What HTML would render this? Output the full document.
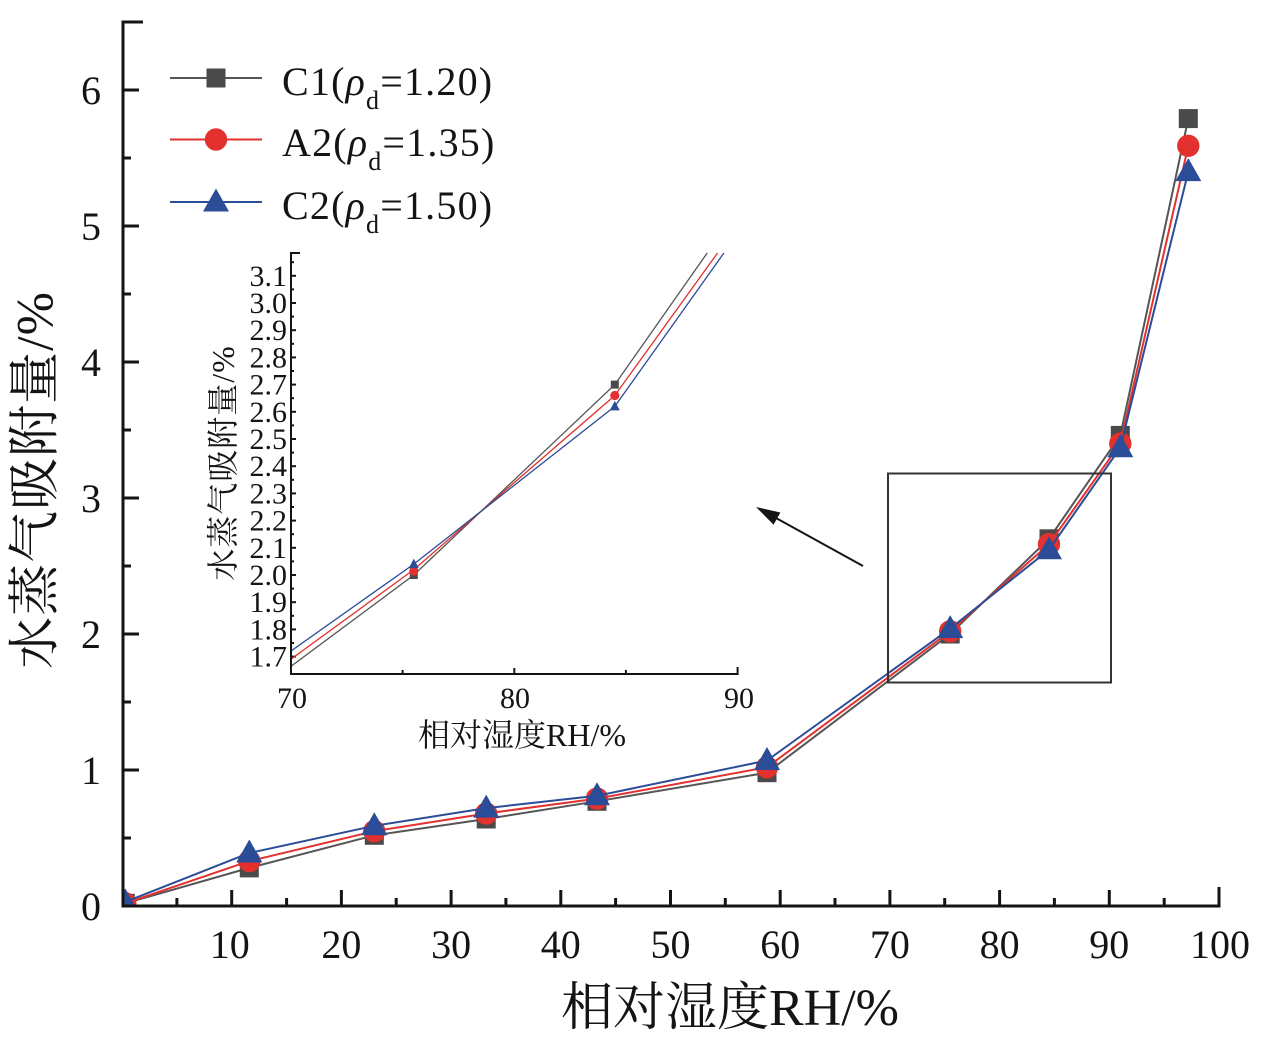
<!DOCTYPE html>
<html>
<head>
<meta charset="utf-8">
<style>
  html, body { margin: 0; padding: 0; background: #fff; }
  svg { display: block; }
  text { font-family: "Liberation Serif", "Noto Serif CJK SC", serif; fill: #141414; }
</style>
</head>
<body>
<svg width="1263" height="1046" viewBox="0 0 1263 1046" xmlns="http://www.w3.org/2000/svg">
  <rect x="0" y="0" width="1263" height="1046" fill="#ffffff"/>
  <defs>
    <clipPath id="mainclip"><rect x="124.5" y="0" width="1110" height="904.5"/></clipPath>
    <clipPath id="insclip"><rect x="292" y="253" width="446" height="420"/></clipPath>
    <rect id="sq" x="-9.5" y="-9.5" width="19" height="19" fill="#4a4a4a"/>
    <circle id="ci" cx="0" cy="0" r="11.2" fill="#e2312e"/>
    <polygon id="tr" points="0,-13.5 -13,9.5 13,9.5" fill="#2b4c97"/>
    <rect id="sqs" x="-4" y="-4" width="8" height="8" fill="#4a4a4a"/>
    <circle id="cis" cx="0" cy="0" r="4.6" fill="#e2312e"/>
    <polygon id="trs" points="0,-5.5 -5,4 5,4" fill="#2b4c97"/>
  </defs>

  <!-- Main axes -->
  <g stroke="#141414" stroke-width="3" fill="none">
    <line x1="123" y1="20.5" x2="123" y2="907.5"/>
    <line x1="121.5" y1="906" x2="1220.5" y2="906"/>
    <line x1="123" y1="22" x2="143" y2="22"/>
    <line x1="123" y1="770" x2="139" y2="770"/>
    <line x1="123" y1="634" x2="139" y2="634"/>
    <line x1="123" y1="498" x2="139" y2="498"/>
    <line x1="123" y1="362" x2="139" y2="362"/>
    <line x1="123" y1="226" x2="139" y2="226"/>
    <line x1="123" y1="90" x2="139" y2="90"/>
    <line x1="123" y1="838" x2="131" y2="838"/>
    <line x1="123" y1="702" x2="131" y2="702"/>
    <line x1="123" y1="566" x2="131" y2="566"/>
    <line x1="123" y1="430" x2="131" y2="430"/>
    <line x1="123" y1="294" x2="131" y2="294"/>
    <line x1="123" y1="158" x2="131" y2="158"/>
    <line x1="231.7" y1="906" x2="231.7" y2="890"/>
    <line x1="341.4" y1="906" x2="341.4" y2="890"/>
    <line x1="451.1" y1="906" x2="451.1" y2="890"/>
    <line x1="560.8" y1="906" x2="560.8" y2="890"/>
    <line x1="670.5" y1="906" x2="670.5" y2="890"/>
    <line x1="780.2" y1="906" x2="780.2" y2="890"/>
    <line x1="889.9" y1="906" x2="889.9" y2="890"/>
    <line x1="999.6" y1="906" x2="999.6" y2="890"/>
    <line x1="1109.3" y1="906" x2="1109.3" y2="890"/>
    <line x1="1219" y1="907.5" x2="1219" y2="887"/>
    <line x1="176.9" y1="906" x2="176.9" y2="898"/>
    <line x1="286.6" y1="906" x2="286.6" y2="898"/>
    <line x1="396.2" y1="906" x2="396.2" y2="898"/>
    <line x1="505.9" y1="906" x2="505.9" y2="898"/>
    <line x1="615.6" y1="906" x2="615.6" y2="898"/>
    <line x1="725.3" y1="906" x2="725.3" y2="898"/>
    <line x1="835.0" y1="906" x2="835.0" y2="898"/>
    <line x1="944.7" y1="906" x2="944.7" y2="898"/>
    <line x1="1054.4" y1="906" x2="1054.4" y2="898"/>
    <line x1="1164.2" y1="906" x2="1164.2" y2="898"/>
  </g>

  <g font-size="40" text-anchor="end">
    <text x="101" y="920">0</text>
    <text x="101" y="784">1</text>
    <text x="101" y="648">2</text>
    <text x="101" y="512">3</text>
    <text x="101" y="376">4</text>
    <text x="101" y="240">5</text>
    <text x="101" y="104">6</text>
  </g>
  <g font-size="40" text-anchor="middle">
    <text x="229.7" y="958">10</text>
    <text x="341.4" y="958">20</text>
    <text x="451.1" y="958">30</text>
    <text x="560.8" y="958">40</text>
    <text x="670.5" y="958">50</text>
    <text x="780.2" y="958">60</text>
    <text x="889.9" y="958">70</text>
    <text x="999.6" y="958">80</text>
    <text x="1109.3" y="958">90</text>
    <text x="1220" y="958">100</text>
  </g>

  <text x="730" y="1025" font-size="52" text-anchor="middle">相对湿度RH/%</text>
  <text transform="translate(36,480) rotate(-90)" font-size="52" text-anchor="middle" dominant-baseline="central" letter-spacing="1">水蒸气吸附量/%</text>

  <g clip-path="url(#mainclip)">
    <polyline fill="none" stroke="#555555" stroke-width="2" points="125.3,903.3 249.3,867.9 374.3,835.3 486.2,819.0 597.0,801.3 767.0,772.7 950.2,634.0 1049.0,538.8 1120.3,435.4 1188.3,118.6"/>
    <use href="#sq" x="125.3" y="903.3"/>
    <use href="#sq" x="249.3" y="867.9"/>
    <use href="#sq" x="374.3" y="835.3"/>
    <use href="#sq" x="486.2" y="819.0"/>
    <use href="#sq" x="597.0" y="801.3"/>
    <use href="#sq" x="767.0" y="772.7"/>
    <use href="#sq" x="950.2" y="634.0"/>
    <use href="#sq" x="1049.0" y="538.8"/>
    <use href="#sq" x="1120.3" y="435.4"/>
    <use href="#sq" x="1188.3" y="118.6"/>

    <polyline fill="none" stroke="#e2312e" stroke-width="2" points="125.3,903.3 249.3,861.1 374.3,831.2 486.2,813.5 597.0,798.6 767.0,767.3 950.2,631.3 1049.0,544.2 1120.3,443.6 1188.3,145.8"/>
    <use href="#ci" x="125.3" y="903.3"/>
    <use href="#ci" x="249.3" y="861.1"/>
    <use href="#ci" x="374.3" y="831.2"/>
    <use href="#ci" x="486.2" y="813.5"/>
    <use href="#ci" x="597.0" y="798.6"/>
    <use href="#ci" x="767.0" y="767.3"/>
    <use href="#ci" x="950.2" y="631.3"/>
    <use href="#ci" x="1049.0" y="544.2"/>
    <use href="#ci" x="1120.3" y="443.6"/>
    <use href="#ci" x="1188.3" y="145.8"/>

    <polyline fill="none" stroke="#2b4c97" stroke-width="2" points="125.3,901.9 249.3,853.0 374.3,825.8 486.2,808.1 597.0,795.8 767.0,760.5 950.2,628.6 1049.0,549.7 1120.3,447.7 1188.3,171.6"/>
    <use href="#tr" x="125.3" y="901.9"/>
    <use href="#tr" x="249.3" y="853.0"/>
    <use href="#tr" x="374.3" y="825.8"/>
    <use href="#tr" x="486.2" y="808.1"/>
    <use href="#tr" x="597.0" y="795.8"/>
    <use href="#tr" x="767.0" y="760.5"/>
    <use href="#tr" x="950.2" y="628.6"/>
    <use href="#tr" x="1049.0" y="549.7"/>
    <use href="#tr" x="1120.3" y="447.7"/>
    <use href="#tr" x="1188.3" y="171.6"/>
  </g>

  <rect x="888" y="473.5" width="223" height="209" fill="none" stroke="#333333" stroke-width="2"/>

  <line x1="863" y1="566" x2="776" y2="518" stroke="#141414" stroke-width="2"/>
  <polygon points="756,507 780.4,512.5 773.6,524.7" fill="#141414"/>

  <line x1="170" y1="78" x2="262" y2="78" stroke="#555555" stroke-width="2"/>
  <use href="#sq" x="216" y="78"/>
  <line x1="170" y1="139.5" x2="262" y2="139.5" stroke="#e2312e" stroke-width="2"/>
  <use href="#ci" x="216" y="139.5"/>
  <line x1="170" y1="202" x2="262" y2="202" stroke="#2b4c97" stroke-width="2"/>
  <use href="#tr" x="216" y="202"/>
  <g font-size="40" letter-spacing="1.2">
    <text x="282" y="95">C1(<tspan font-style="italic">ρ</tspan><tspan font-size="26" dy="14">d</tspan><tspan dy="-14">=1.20)</tspan></text>
    <text x="282" y="156">A2(<tspan font-style="italic">ρ</tspan><tspan font-size="26" dy="14">d</tspan><tspan dy="-14">=1.35)</tspan></text>
    <text x="282" y="219">C2(<tspan font-style="italic">ρ</tspan><tspan font-size="26" dy="14">d</tspan><tspan dy="-14">=1.50)</tspan></text>
  </g>

  <g stroke="#141414" stroke-width="2" fill="none">
    <line x1="291" y1="252" x2="291" y2="675"/>
    <line x1="290" y1="674" x2="738.5" y2="674"/>
    <line x1="291" y1="253" x2="300" y2="253"/>
    <line x1="291" y1="656.6" x2="296" y2="656.6"/>
    <line x1="291" y1="629.4" x2="296" y2="629.4"/>
    <line x1="291" y1="602.2" x2="296" y2="602.2"/>
    <line x1="291" y1="575.0" x2="296" y2="575.0"/>
    <line x1="291" y1="547.8" x2="296" y2="547.8"/>
    <line x1="291" y1="520.6" x2="296" y2="520.6"/>
    <line x1="291" y1="493.4" x2="296" y2="493.4"/>
    <line x1="291" y1="466.2" x2="296" y2="466.2"/>
    <line x1="291" y1="439.0" x2="296" y2="439.0"/>
    <line x1="291" y1="411.8" x2="296" y2="411.8"/>
    <line x1="291" y1="384.6" x2="296" y2="384.6"/>
    <line x1="291" y1="357.4" x2="296" y2="357.4"/>
    <line x1="291" y1="330.2" x2="296" y2="330.2"/>
    <line x1="291" y1="303.0" x2="296" y2="303.0"/>
    <line x1="291" y1="275.8" x2="296" y2="275.8"/>
    <line x1="291" y1="643.0" x2="294" y2="643.0"/>
    <line x1="291" y1="615.8" x2="294" y2="615.8"/>
    <line x1="291" y1="588.6" x2="294" y2="588.6"/>
    <line x1="291" y1="561.4" x2="294" y2="561.4"/>
    <line x1="291" y1="534.2" x2="294" y2="534.2"/>
    <line x1="291" y1="507.0" x2="294" y2="507.0"/>
    <line x1="291" y1="479.8" x2="294" y2="479.8"/>
    <line x1="291" y1="452.6" x2="294" y2="452.6"/>
    <line x1="291" y1="425.4" x2="294" y2="425.4"/>
    <line x1="291" y1="398.2" x2="294" y2="398.2"/>
    <line x1="291" y1="371.0" x2="294" y2="371.0"/>
    <line x1="291" y1="343.8" x2="294" y2="343.8"/>
    <line x1="291" y1="316.6" x2="294" y2="316.6"/>
    <line x1="291" y1="289.4" x2="294" y2="289.4"/>
    <line x1="291" y1="262.2" x2="294" y2="262.2"/>
    <line x1="402.6" y1="674" x2="402.6" y2="670"/>
    <line x1="514.3" y1="674" x2="514.3" y2="668"/>
    <line x1="625.9" y1="674" x2="625.9" y2="670"/>
    <line x1="737.6" y1="675" x2="737.6" y2="667"/>
  </g>

  <g font-size="30" text-anchor="end">
    <text x="287" y="666.6">1.7</text>
    <text x="287" y="639.4">1.8</text>
    <text x="287" y="612.2">1.9</text>
    <text x="287" y="585.0">2.0</text>
    <text x="287" y="557.8">2.1</text>
    <text x="287" y="530.6">2.2</text>
    <text x="287" y="503.4">2.3</text>
    <text x="287" y="476.2">2.4</text>
    <text x="287" y="449.0">2.5</text>
    <text x="287" y="421.8">2.6</text>
    <text x="287" y="394.6">2.7</text>
    <text x="287" y="367.4">2.8</text>
    <text x="287" y="340.2">2.9</text>
    <text x="287" y="313.0">3.0</text>
    <text x="287" y="285.8">3.1</text>
  </g>
  <g font-size="30" text-anchor="middle">
    <text x="292" y="708">70</text>
    <text x="515" y="708">80</text>
    <text x="739" y="708">90</text>
  </g>
  <text x="522" y="746" font-size="32" text-anchor="middle">相对湿度RH/%</text>
  <text transform="translate(223,463) rotate(-90)" font-size="32" text-anchor="middle" dominant-baseline="central" letter-spacing="1">水蒸气吸附量/%</text>

  <g clip-path="url(#insclip)">
    <polyline fill="none" stroke="#555555" stroke-width="1.3" points="40.9,852.4 413.8,575.0 614.8,384.6 759.9,177.9"/>
    <use href="#sqs" x="413.8" y="575.0"/>
    <use href="#sqs" x="614.8" y="384.6"/>
    <polyline fill="none" stroke="#e2312e" stroke-width="1.3" points="40.9,841.6 413.8,569.6 614.8,395.5 759.9,194.2"/>
    <use href="#cis" x="413.8" y="571.0"/>
    <use href="#cis" x="614.8" y="395.5"/>
    <polyline fill="none" stroke="#2b4c97" stroke-width="1.3" points="40.9,828.0 413.8,564.1 614.8,406.4 759.9,202.4"/>
    <use href="#trs" x="413.8" y="564.1"/>
    <use href="#trs" x="614.8" y="406.4"/>
  </g>
</svg>
</body>
</html>
